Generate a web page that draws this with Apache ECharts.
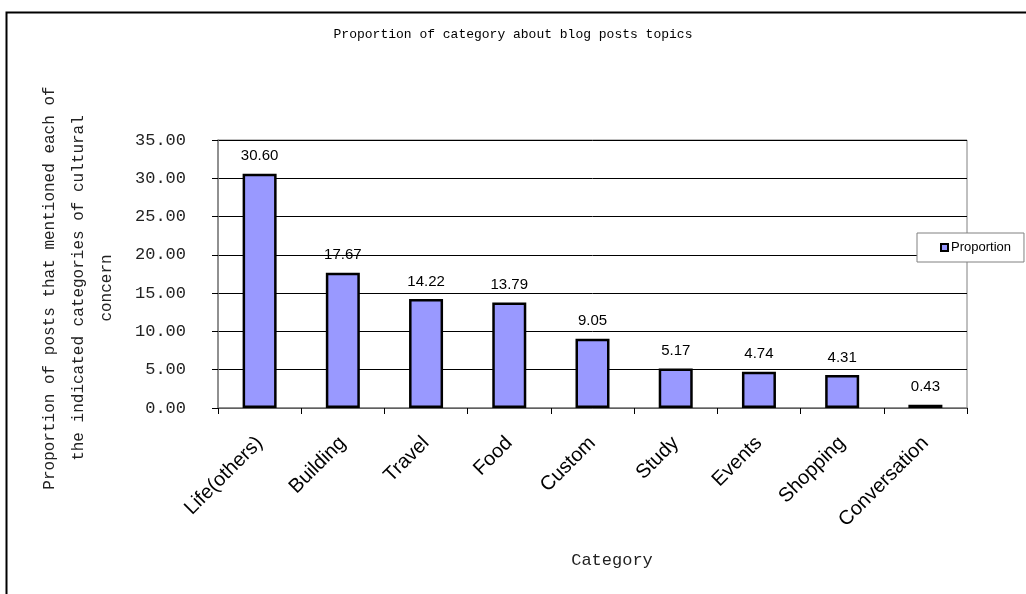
<!DOCTYPE html>
<html><head><meta charset="utf-8">
<script src="https://cdn.jsdelivr.net/npm/echarts@6/dist/echarts.min.js"></script>
<style>html,body{margin:0;padding:0;background:#fff}#c{width:1026px;height:594px}</style>
</head><body><div id="c"></div>
<script>
var categories = ['Life(others)','Building','Travel','Food','Custom','Study','Events','Shopping','Conversation'];
var proportion = [30.60,17.67,14.22,13.79,9.05,5.17,4.74,4.31,0.43];
var yTicks = [0,5,10,15,20,25,30,35];
var titleText = 'Proportion of category about blog posts topics';
var yNameLines = ['Proportion of posts that mentioned each of','the indicated categories of cultural','concern'];
var xName = 'Category';
var seriesName = 'Proportion';

var chart = echarts.init(document.getElementById('c'));
var mono = 'Liberation Mono';
chart.setOption({
  animation:false,
  backgroundColor:'#fff',
  title:{text:titleText,left:'center',top:28,itemGap:0,padding:0,
    textStyle:{fontFamily:mono,fontSize:13,fontWeight:'normal',color:'#000'}},
  grid:{left:218,top:140,right:59,bottom:186,show:true,borderColor:'#808080',borderWidth:1,backgroundColor:'#fff'},
  legend:{data:[seriesName],left:917,top:233,padding:[8,13,8,23],borderColor:'#808080',borderWidth:1,
    backgroundColor:'#fff',icon:'rect',itemWidth:7,itemHeight:7,itemGap:2,
    textStyle:{fontFamily:'Liberation Sans',fontSize:13,color:'#000',padding:[0,0,0,-2]}},
  xAxis:{type:'category',data:categories,
    axisLine:{lineStyle:{color:'#808080',width:1.5}},
    axisTick:{show:true,length:6,alignWithLabel:false,lineStyle:{color:'#000'}},
    axisLabel:{rotate:45,interval:0,margin:32,fontFamily:'Liberation Sans',fontSize:20,color:'#000'},
    splitLine:{show:false}},
  yAxis:{type:'value',min:yTicks[0],max:yTicks[yTicks.length-1],interval:5,
    axisLine:{show:true,lineStyle:{color:'#808080',width:1.5}},
    axisTick:{show:true,length:6,inside:false,lineStyle:{color:'#000'}},
    axisLabel:{margin:32,fontFamily:mono,fontSize:17,color:'#222',formatter:function(v){return v.toFixed(2);}},
    splitLine:{show:true,lineStyle:{color:'#000',width:1}}},
  series:[{name:seriesName,type:'bar',data:proportion,barWidth:34,
    itemStyle:{color:'#9999FF',borderColor:'#000',borderWidth:2.5},
    label:{show:true,position:'top',distance:10,fontFamily:'Liberation Sans',fontSize:15,color:'#000',
      formatter:function(p){return p.value.toFixed(2);}}}],
  graphic:[
    {type:'rect',left:4,top:10,shape:{width:1040,height:600},style:{fill:'none',stroke:'#000',lineWidth:2},z:-10,silent:true},
    {type:'text',x:50,y:288,rotation:Math.PI/2,style:{text:yNameLines[0],font:'16px "Liberation Mono"',fill:'#222',textAlign:'center',textVerticalAlign:'middle'}},
    {type:'text',x:79,y:288,rotation:Math.PI/2,style:{text:yNameLines[1],font:'16px "Liberation Mono"',fill:'#222',textAlign:'center',textVerticalAlign:'middle'}},
    {type:'text',x:107,y:288,rotation:Math.PI/2,style:{text:yNameLines[2],font:'16px "Liberation Mono"',fill:'#222',textAlign:'center',textVerticalAlign:'middle'}},
    {type:'text',x:612,y:560,style:{text:xName,font:'17px "Liberation Mono"',fill:'#222',textAlign:'center',textVerticalAlign:'middle'}}
  ]
});
</script></body></html>
